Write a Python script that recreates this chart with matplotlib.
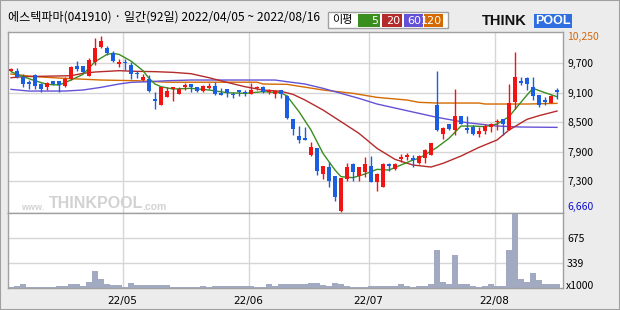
import matplotlib
matplotlib.use('Agg')
import matplotlib.pyplot as plt
import numpy as np

plt.rcParams['font.family'] = ['Noto Sans CJK KR', 'DejaVu Sans']

# ---- data (92 trading days, 2022/04/05 ~ 2022/08/16) ----
opens = [9544, 9530, 9422, 9307, 9456, 9273, 9218, 9334, 9334, 9239,
         9374, 9646, 9646, 9442, 9727, 10032, 9998, 9910, 9679, 9727,
         9659, 9490, 9354, 9368, 8968, 8846, 9015, 9171, 9062, 9205,
         9273, 9205, 9137, 9198, 9232, 9096, 9164, 9069, 9151, 9117,
         9069, 9185, 9205, 9117, 9062, 9151, 9029, 8561, 8215, 8181,
         7829, 7964, 7442, 7591, 7408, 6696, 7340, 7645, 7408, 7483,
         7605, 7286, 7171, 7639, 7537, 7740, 7795, 7774, 7659, 7761,
         7829, 8845, 8249, 8459, 8337, 8622, 8385, 8405, 8256, 8323,
         8405, 8507, 8554, 8337, 8913, 9340, 9388, 9205, 9049, 8947,
         8879, 9151]
highs = [9591, 9605, 9469, 9354, 9469, 9286, 9320, 9334, 9340, 9422,
         9630, 9740, 9646, 9795, 10215, 10250, 10046, 9951, 9781, 9781,
         9727, 9544, 9476, 9456, 9117, 9218, 9218, 9218, 9218, 9286,
         9273, 9205, 9252, 9286, 9320, 9185, 9164, 9117, 9151, 9151,
         9286, 9232, 9232, 9171, 9151, 9151, 9049, 8561, 8418, 8405,
         8086, 7964, 7605, 7680, 7408, 7354, 7659, 7659, 7591, 7795,
         7808, 7456, 7659, 7673, 7659, 7849, 7876, 7829, 7829, 7944,
         8079, 9544, 8405, 8459, 9171, 8622, 8622, 8439, 8405, 8459,
         8473, 8554, 8554, 9273, 9930, 9408, 9408, 9408, 9049, 9015,
         9049, 9185]
lows = [9530, 9388, 9218, 9171, 9171, 9103, 9151, 9252, 9117, 9205,
        9354, 9544, 9490, 9435, 9659, 9998, 9862, 9727, 9625, 9557,
        9368, 9388, 9340, 9117, 8764, 8846, 9015, 8934, 9062, 9151,
        9103, 9103, 9103, 9171, 9049, 9049, 9015, 8981, 9035, 9035,
        9069, 9151, 9083, 9069, 8981, 8981, 8554, 8235, 8066, 8134,
        7808, 7422, 7340, 7184, 6900, 6660, 7307, 7307, 7307, 7388,
        7286, 7103, 7171, 7510, 7524, 7693, 7727, 7591, 7645, 7673,
        7829, 8323, 8154, 8337, 8235, 8459, 8283, 8235, 8188, 8256,
        8290, 8337, 8235, 8337, 8757, 9252, 9151, 8947, 8798, 8845,
        8879, 8961]
closes = [9578, 9408, 9273, 9273, 9239, 9171, 9286, 9273, 9252, 9381,
          9625, 9578, 9524, 9761, 9998, 10147, 9896, 9747, 9727, 9693,
          9469, 9469, 9422, 9130, 8934, 9205, 9137, 9205, 9171, 9252,
          9218, 9137, 9239, 9232, 9062, 9049, 9083, 9049, 9103, 9083,
          9151, 9205, 9117, 9151, 9130, 9062, 8574, 8357, 8134, 8134,
          7998, 7510, 7605, 7307, 6981, 7354, 7591, 7490, 7578, 7645,
          7286, 7442, 7645, 7605, 7645, 7781, 7829, 7727, 7808, 7930,
          8066, 8337, 8385, 8357, 8622, 8459, 8337, 8256, 8323, 8418,
          8459, 8527, 8459, 8879, 9408, 9300, 9273, 9035, 8845, 8913,
          9035, 9117]
# volume, x1000 shares
volumes = [18, 31, 49, 18, 18, 18, 18, 18, 31, 31,
           49, 49, 31, 76, 224, 116, 49, 36, 36, 18,
           63, 36, 36, 36, 36, 36, 36, 18, 18, 18,
           18, 18, 31, 18, 31, 31, 31, 31, 31, 31,
           31, 18, 18, 49, 31, 49, 49, 49, 49, 49,
           63, 63, 36, 31, 63, 49, 31, 18, 18, 18,
           31, 31, 31, 31, 31, 49, 31, 18, 31, 31,
           49, 506, 76, 49, 439, 49, 49, 31, 18, 31,
           49, 31, 31, 506, 990, 116, 76, 202, 103, 49,
           49, 49]

# moving averages, read at sample days
ma5_days = [0, 2, 4, 6, 8, 10, 12, 14, 16, 17, 18, 20, 22, 23, 24, 25, 27, 30,
            33, 36, 39, 42, 45, 46, 48, 50, 52, 54, 55, 57, 59, 61, 63, 65, 67,
            68, 71, 73, 75, 77, 79, 81, 83, 84, 86, 87, 89, 91]
ma5_vals = [9524, 9422, 9340, 9266, 9252, 9354, 9469, 9727, 9876, 9896, 9876,
            9740, 9544, 9388, 9273, 9218, 9171, 9185, 9151, 9096, 9083, 9117,
            9096, 9029, 8710, 8337, 7862, 7523, 7388, 7368, 7442, 7537, 7523,
            7625, 7727, 7761, 7984, 8168, 8418, 8418, 8405, 8459, 8608, 8757,
            9049, 9185, 9096, 9015]
ma20_days = [0, 2, 10, 12, 14, 18, 21, 24, 27, 30, 33, 36, 39, 42, 45, 47, 49,
             52, 55, 58, 61, 64, 67, 70, 72, 75, 78, 81, 83, 86, 88, 91]
ma20_vals = [9401, 9422, 9442, 9490, 9517, 9544, 9530, 9524, 9510, 9483, 9401,
             9307, 9218, 9151, 9124, 9062, 8947, 8744, 8507, 8269, 7964, 7740,
             7625, 7584, 7659, 7808, 7984, 8134, 8337, 8554, 8629, 8723]
ma60_days = [0, 3, 9, 12, 15, 18, 20, 23, 26, 30, 44, 46, 49, 52, 55, 58, 61,
             66, 71, 76, 81, 85, 91]
ma60_vals = [9164, 9130, 9130, 9151, 9205, 9273, 9307, 9320, 9340, 9354, 9354,
             9320, 9273, 9185, 9083, 8981, 8866, 8730, 8595, 8486, 8418, 8398,
             8391]
ma120_days = [0, 4, 9, 15, 21, 26, 41, 42, 46, 52, 57, 61, 66, 68, 71, 78, 79,
              86, 91]
ma120_vals = [9476, 9422, 9388, 9354, 9340, 9310, 9310, 9273, 9266, 9151, 9083,
              9001, 8947, 8900, 8886, 8886, 8866, 8866, 8879]

price_ticks = [10250, 9700, 9100, 8500, 7900, 7300, 6660]
price_grid = [9700, 9100, 8500, 7900, 7300]
vol_ticks = [675, 339]
month_start = [19, 40, 60, 81]
month_labels = ['22/05', '22/06', '22/07', '22/08']

ma_names = ['5', '20', '60', '120']
ma_colors = ['#3a8e1e', '#b52a2a', '#6452d6', '#d46a00']
up_color = '#f01414'
down_color = '#1c5ee0'
vol_color = '#a2aac2'
frame_color = '#a0a0a0'
grid_color = '#d6d6d6'

W, H = 620.0, 310.0

def px_box(x0, y0, x1, y1):
  # pixel box (top-left origin) -> figure fraction rect
  return [x0 / W, 1 - y1 / H, (x1 - x0) / W, (y1 - y0) / H]

def px_text(fig, x, y, s, **kw):
  return fig.text(x / W, 1 - y / H, s, **kw)

def style_axes(ax):
  ax.set_facecolor('white')
  for sp in ax.spines.values():
    sp.set_color(frame_color)
    sp.set_linewidth(1.0)
  ax.yaxis.tick_right()
  ax.tick_params(axis='both', length=0, labelsize=7.5, pad=3)

def plot_candles(ax):
  idx = np.arange(len(closes))
  o = np.array(opens)
  c = np.array(closes)
  colors = [up_color if c[i] >= o[i] else down_color for i in idx]
  ax.vlines(idx, lows, highs, colors=colors, linewidth=1.0, zorder=3)
  bottom = np.minimum(o, c)
  height = np.maximum(np.abs(c - o), 18)
  ax.bar(idx, height, bottom=bottom, width=0.76, color=colors, linewidth=0, zorder=4)

fig = plt.figure(figsize=(6.2, 3.1), dpi=100, facecolor='#ececec')

ax1 = fig.add_axes(px_box(8, 32, 563, 213))
ax2 = fig.add_axes(px_box(8, 213, 563, 288))

for ax in (ax1, ax2):
  style_axes(ax)
  ax.set_xlim(-0.5, 92.0)
  for m in month_start:
    ax.axvline(m - 0.4, color=grid_color, linewidth=1.0, zorder=0)

# price panel
ax1.set_ylim(6649, 10331)
for g in price_grid:
  ax1.axhline(g, color=grid_color, linewidth=1.0, zorder=0)

ma_sets = [(ma120_days, ma120_vals, 3), (ma60_days, ma60_vals, 2),
           (ma20_days, ma20_vals, 1), (ma5_days, ma5_vals, 0)]
for d, v, k in ma_sets:
  ax1.plot(d, v, color=ma_colors[k], linewidth=1.0, zorder=2)

plot_candles(ax1)

ax1.set_xticks([])
ax1.set_yticks(price_ticks)
ax1.set_yticklabels(['{:,}'.format(t) for t in price_ticks])
labs = ax1.get_yticklabels()
labs[0].set_color('#d06a10')
labs[-1].set_color('#1010c8')
labs[-1].set_verticalalignment('bottom')

# volume panel
ax2.bar(np.arange(len(volumes)), volumes, width=0.85, color=vol_color, linewidth=0, zorder=2)
ax2.set_ylim(0, 1010)
for g in vol_ticks:
  ax2.axhline(g, color=grid_color, linewidth=1.0, zorder=0)
ax2.set_yticks(vol_ticks)
ax2.set_yticklabels([str(t) for t in vol_ticks])
ax2.set_xticks([m - 0.4 for m in month_start])
ax2.set_xticklabels(month_labels, family='DejaVu Sans')
ax2.tick_params(axis='x', pad=6, labelsize=7.5)
px_text(fig, 566, 286, 'x1000', fontsize=7.5, va='center', ha='left')

# watermark in the price panel
wm = dict(color='#d2d2d2', fontweight='bold', va='center', ha='left', zorder=1)
px_text(fig, 21, 207, 'www.', fontsize=6.5, family='Liberation Sans', **wm)
px_text(fig, 49, 204, 'THINKPOOL', fontsize=11.5, family='Liberation Sans', **wm)
px_text(fig, 142, 207, '.com', fontsize=7.5, family='Liberation Sans', **wm)

# title
px_text(fig, 8, 17, '에스텍파마(041910) · 일간(92일) 2022/04/05 ~ 2022/08/16',
        fontsize=8.7, va='center', ha='left', color='black')

# legend box
fig.patches.append(plt.Rectangle((328 / W, 1 - 28 / H), 120 / W, 16 / H,
                                 transform=fig.transFigure, facecolor='white',
                                 edgecolor=frame_color, linewidth=1.0))
px_text(fig, 332, 20, '이평', fontsize=8, va='center', ha='left')
box_x = [(358, 380), (382, 402), (404, 423), (424, 443)]
for k in range(4):
  x0, x1 = box_x[k]
  fig.patches.append(plt.Rectangle((x0 / W, 1 - 27 / H), (x1 - x0) / W, 13 / H,
                                   transform=fig.transFigure, facecolor=ma_colors[k],
                                   edgecolor='none'))
  px_text(fig, x1 - 1.5, 20.5, ma_names[k], fontsize=8, va='center',
          ha='right', color='white', family='DejaVu Sans')

# logo
px_text(fig, 482, 21, 'THINK', fontsize=10.5, fontweight='bold',
        family='Liberation Sans', va='center', ha='left', color='#111111')
px_text(fig, 535, 21, 'POOL', fontsize=9, fontweight='bold',
        family='Liberation Sans', va='center', ha='left', color='white',
        bbox=dict(boxstyle='square,pad=0.1', facecolor='#2f6fe0', edgecolor='none'))

# outer border
fig.patches.append(plt.Rectangle((0, 0), 1, 1, transform=fig.transFigure,
                                 facecolor='none', edgecolor=frame_color, linewidth=1.5))

fig.savefig('out.png', dpi=100, facecolor=fig.get_facecolor())
